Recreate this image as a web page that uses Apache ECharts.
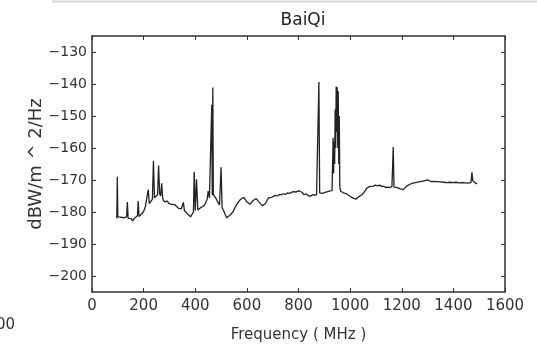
<!DOCTYPE html>
<html>
<head>
<meta charset="utf-8">
<script src="https://cdn.jsdelivr.net/npm/echarts@6/dist/echarts.min.js"></script>
<style>html,body{margin:0;padding:0;background:#fff;}#c{width:537px;height:348px;}</style>
</head>
<body>
<div id="c"></div>
<script>
var title = 'BaiQi';
var xName = 'Frequency ( MHz )';
var yName = 'dBW/m ^ 2/Hz';
var xTicks = [0, 200, 400, 600, 800, 1000, 1200, 1400, 1600];
var yTicks = [-200, -190, -180, -170, -160, -150, -140, -130];

var freqs = [
  96, 98, 100, 104, 110, 116, 122, 128, 134, 137, 140, 146, 152, 158, 164, 170, 176, 179, 182, 188,
  194, 200, 206, 212, 218, 222, 228, 234, 238, 242, 248, 254, 258, 262, 266, 270, 274, 280, 286, 292,
  298, 304, 310, 316, 322, 328, 334, 340, 346, 352, 354, 358, 364, 370, 376, 382, 388, 393, 396, 400,
  405, 410, 416, 422, 428, 434, 440, 446, 450, 455, 460, 464, 466, 468, 470, 476, 482, 488, 494, 500,
  504, 510, 516, 522, 528, 534, 540, 546, 552, 558, 564, 570, 576, 582, 588, 594, 600, 606, 612, 618,
  624, 630, 636, 642, 648, 654, 660, 666, 672, 678, 684, 690, 696, 702, 710, 718, 726, 734, 742, 750,
  758, 766, 774, 782, 790, 798, 806, 814, 822, 830, 838, 846, 854, 862, 870, 876, 879, 882, 890, 898,
  906, 914, 922, 930, 932, 934, 936, 938, 940, 942, 944, 946, 948, 950, 952, 954, 956, 958, 960, 963,
  968, 974, 980, 986, 992, 998, 1004, 1010, 1016, 1022, 1028, 1034, 1040, 1046, 1052, 1058, 1064, 1070, 1076, 1082,
  1090, 1098, 1106, 1114, 1122, 1130, 1138, 1146, 1154, 1162, 1167, 1170, 1176, 1182, 1188, 1194, 1200, 1206, 1212, 1218,
  1224, 1230, 1236, 1242, 1248, 1254, 1260, 1266, 1272, 1278, 1284, 1290, 1296, 1302, 1308, 1314, 1320, 1326, 1332, 1338,
  1344, 1350, 1356, 1362, 1368, 1374, 1380, 1386, 1392, 1398, 1404, 1410, 1416, 1422, 1428, 1434, 1440, 1446, 1452, 1458,
  1464, 1468, 1472, 1475, 1480, 1486, 1492
];
var power = [
  -182.0, -169.0, -181.5, -182.0, -181.6, -182.2, -181.8, -182.3, -181.5, -176.9, -182.0, -182.6, -182.1, -182.8, -182.0, -181.8, -181.2, -176.6, -181.4, -181.0,
  -180.5, -179.8, -178.6, -178.0, -173.0, -177.4, -176.8, -176.0, -164.0, -175.6, -175.0, -174.6, -165.5, -174.3, -175.0, -171.0, -175.8, -176.8, -177.2, -176.6,
  -177.4, -177.0, -177.6, -178.2, -177.8, -178.3, -178.8, -178.5, -179.0, -179.4, -177.0, -179.6, -180.2, -180.6, -181.0, -181.5, -181.8, -180.0, -167.4, -179.5,
  -169.8, -179.4, -179.0, -178.6, -178.8, -178.0, -177.2, -176.0, -173.5, -175.6, -175.0, -146.5, -174.8, -141.1, -174.5, -175.2, -176.0, -177.0, -177.8, -166.0,
  -178.6, -179.6, -180.8, -181.8, -181.4, -181.0, -180.6, -180.0, -179.0, -178.0, -177.2, -176.6, -176.0, -175.6, -175.4, -176.0, -176.8, -177.4, -177.6, -177.0,
  -176.4, -176.0, -175.8, -176.2, -177.0, -177.6, -178.0, -178.2, -177.4, -176.4, -175.6, -175.8, -175.4, -175.0, -174.8, -175.0, -174.5, -174.6, -174.3, -174.5,
  -174.0, -174.2, -173.8, -173.6, -173.8, -173.4, -173.5, -173.9, -174.6, -174.3, -174.9, -175.1, -174.6, -174.8, -174.5, -174.3, -139.4, -174.0, -174.2, -174.0,
  -173.8, -173.6, -173.4, -173.3, -173.0, -156.8, -168.0, -158.0, -165.0, -148.0, -160.0, -140.8, -155.0, -141.0, -160.0, -142.3, -165.0, -150.0, -172.0, -173.5,
  -173.8, -174.0, -174.2, -174.3, -174.6, -175.0, -175.3, -175.6, -175.9, -176.0, -175.7, -175.2, -174.8, -174.6, -174.2, -173.4, -172.6, -172.2, -172.0, -171.8,
  -171.9, -171.6, -171.8, -171.6, -172.0, -172.0, -172.3, -172.2, -172.4, -172.0, -159.7, -172.2, -172.6, -172.4, -173.0, -172.8, -173.2, -173.0, -172.6, -172.0,
  -171.8, -171.4, -171.6, -171.0, -171.2, -170.8, -171.0, -170.6, -170.8, -170.4, -170.6, -170.2, -170.4, -170.0, -170.3, -170.5, -170.1, -170.4, -170.7, -170.5,
  -170.9, -170.6, -171.0, -170.7, -171.0, -170.8, -171.1, -170.7, -171.0, -170.8, -171.1, -170.7, -171.0, -170.9, -171.2, -170.8, -171.0, -170.9, -170.6, -171.0,
  -170.6, -170.8, -167.6, -170.2, -170.6, -171.0, -171.2
];

var seriesData = freqs.map(function (f, i) { return [f, power[i]]; });

var chart = echarts.init(document.getElementById('c'), null, {renderer: 'canvas'});
var font = 'DejaVu Sans';
var axisColor = '#333';
function fmtY(v) { return String(v).replace('-', '\u2212'); }
function fmtX(v) { return String(v); }

chart.setOption({
  animation: false,
  backgroundColor: '#fff',
  title: {
    text: title, left: 298, top: 7, textAlign: 'center',
    textStyle: {fontFamily: font, fontSize: 17, fontWeight: 'normal', color: '#222'}
  },
  grid: {left: 92, right: 32, top: 36, bottom: 55, containLabel: false},
  xAxis: [{
    type: 'value', position: 'bottom', min: xTicks[0], max: xTicks[xTicks.length - 1], interval: 200,
    name: xName, nameLocation: 'middle', nameGap: 36, nameMoveOverlap: false,
    nameTextStyle: {fontFamily: font, fontSize: 15, color: '#333'},
    axisLine: {onZero: false, lineStyle: {color: axisColor, width: 1.5}},
    axisTick: {inside: true, length: 4, lineStyle: {color: axisColor}},
    axisLabel: {fontFamily: font, fontSize: 15, color: '#333', margin: 7, formatter: fmtX},
    splitLine: {show: false}
  }, {
    type: 'value', position: 'top', min: xTicks[0], max: xTicks[xTicks.length - 1], interval: 200,
    axisLine: {onZero: false, lineStyle: {color: axisColor, width: 1.5}},
    axisTick: {inside: true, length: 4, lineStyle: {color: axisColor}},
    axisLabel: {show: false},
    splitLine: {show: false}
  }],
  yAxis: [{
    type: 'value', position: 'left', min: -205, max: -125, interval: 5,
    name: yName, nameLocation: 'middle', nameGap: 47, nameMoveOverlap: false,
    nameTextStyle: {fontFamily: font, fontSize: 18, color: '#333'},
    axisLine: {show: true, onZero: false, lineStyle: {color: axisColor, width: 1.5}},
    axisTick: {show: true, inside: true, length: 4, customValues: yTicks, lineStyle: {color: axisColor}},
    axisLabel: {fontFamily: font, fontSize: 14, color: '#333', margin: 5, customValues: yTicks, formatter: fmtY},
    splitLine: {show: false}
  }, {
    type: 'value', position: 'right', min: -205, max: -125, interval: 5,
    axisLine: {show: true, onZero: false, lineStyle: {color: axisColor, width: 1.5}},
    axisTick: {show: true, inside: true, length: 4, customValues: yTicks, lineStyle: {color: axisColor}},
    axisLabel: {show: false},
    splitLine: {show: false}
  }],
  graphic: [
    {type: 'line', shape: {x1: 52, y1: 1.5, x2: 537, y2: 1.5}, style: {stroke: '#d8d8d8', lineWidth: 2}},
    {type: 'text', left: -4, top: 318, style: {text: '00', fontFamily: font, fontSize: 15, fill: '#333'}}
  ],
  series: [{
    type: 'line', xAxisIndex: 0, yAxisIndex: 0, data: seriesData,
    showSymbol: false, symbol: 'none',
    lineStyle: {color: '#222', width: 1.3},
    z: 3
  }]
});
</script>
</body>
</html>
